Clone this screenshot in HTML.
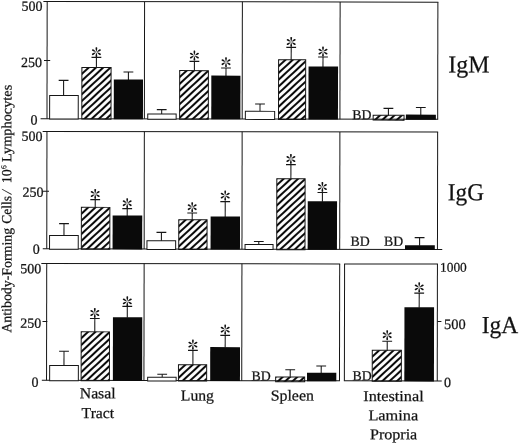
<!DOCTYPE html>
<html><head><meta charset="utf-8"><title>Antibody-Forming Cells</title>
<style>html,body{margin:0;padding:0;background:#fff}svg{display:block}</style>
</head><body>
<svg width="520" height="445" viewBox="0 0 520 445" font-family="'Liberation Serif', 'Times New Roman', serif" fill="#111">
<defs>
<pattern id="h0" patternUnits="userSpaceOnUse" width="30" height="4.95" patternTransform="translate(81.63,67.43) rotate(-43)"><rect x="0" y="0" width="30" height="1.025" fill="#0a0a0a"/><rect x="0" y="3.9250000000000003" width="30" height="1.025" fill="#0a0a0a"/></pattern>
<pattern id="h1" patternUnits="userSpaceOnUse" width="30" height="4.95" patternTransform="translate(179.43,70.46) rotate(-43)"><rect x="0" y="0" width="30" height="1.025" fill="#0a0a0a"/><rect x="0" y="3.9250000000000003" width="30" height="1.025" fill="#0a0a0a"/></pattern>
<pattern id="h2" patternUnits="userSpaceOnUse" width="30" height="4.95" patternTransform="translate(278.32,59.40) rotate(-43)"><rect x="0" y="0" width="30" height="1.025" fill="#0a0a0a"/><rect x="0" y="3.9250000000000003" width="30" height="1.025" fill="#0a0a0a"/></pattern>
<pattern id="h3" patternUnits="userSpaceOnUse" width="30" height="4.95" patternTransform="translate(372.97,114.73) rotate(-43)"><rect x="0" y="0" width="30" height="1.025" fill="#0a0a0a"/><rect x="0" y="3.9250000000000003" width="30" height="1.025" fill="#0a0a0a"/></pattern>
<pattern id="h4" patternUnits="userSpaceOnUse" width="30" height="4.95" patternTransform="translate(81.36,207.33) rotate(-43)"><rect x="0" y="0" width="30" height="1.025" fill="#0a0a0a"/><rect x="0" y="3.9250000000000003" width="30" height="1.025" fill="#0a0a0a"/></pattern>
<pattern id="h5" patternUnits="userSpaceOnUse" width="30" height="4.95" patternTransform="translate(178.77,219.56) rotate(-43)"><rect x="0" y="0" width="30" height="1.025" fill="#0a0a0a"/><rect x="0" y="3.9250000000000003" width="30" height="1.025" fill="#0a0a0a"/></pattern>
<pattern id="h6" patternUnits="userSpaceOnUse" width="30" height="4.95" patternTransform="translate(276.74,178.30) rotate(-43)"><rect x="0" y="0" width="30" height="1.025" fill="#0a0a0a"/><rect x="0" y="3.9250000000000003" width="30" height="1.025" fill="#0a0a0a"/></pattern>
<pattern id="h7" patternUnits="userSpaceOnUse" width="30" height="4.95" patternTransform="translate(81.38,331.83) rotate(-43)"><rect x="0" y="0" width="30" height="1.025" fill="#0a0a0a"/><rect x="0" y="3.9250000000000003" width="30" height="1.025" fill="#0a0a0a"/></pattern>
<pattern id="h8" patternUnits="userSpaceOnUse" width="30" height="4.95" patternTransform="translate(178.71,364.56) rotate(-43)"><rect x="0" y="0" width="30" height="1.025" fill="#0a0a0a"/><rect x="0" y="3.9250000000000003" width="30" height="1.025" fill="#0a0a0a"/></pattern>
<pattern id="h9" patternUnits="userSpaceOnUse" width="30" height="4.95" patternTransform="translate(275.92,376.70) rotate(-43)"><rect x="0" y="0" width="30" height="1.025" fill="#0a0a0a"/><rect x="0" y="3.9250000000000003" width="30" height="1.025" fill="#0a0a0a"/></pattern>
<pattern id="h10" patternUnits="userSpaceOnUse" width="30" height="4.95" patternTransform="translate(372.49,349.73) rotate(-43)"><rect x="0" y="0" width="30" height="1.025" fill="#0a0a0a"/><rect x="0" y="3.9250000000000003" width="30" height="1.025" fill="#0a0a0a"/></pattern>
<g id="ast" fill="#111">
<path id="arm" d="M0,-0.3 C-0.5,-1.6 -1.1,-3.6 -0.75,-4.6 C-0.5,-5.2 0.5,-5.2 0.75,-4.6 C1.1,-3.6 0.5,-1.6 0,-0.3 Z"/>
<use href="#arm" transform="rotate(60)"/>
<use href="#arm" transform="rotate(120)"/>
<use href="#arm" transform="rotate(180)"/>
<use href="#arm" transform="rotate(240)"/>
<use href="#arm" transform="rotate(300)"/>
</g>
</defs>
<rect width="520" height="445" fill="#fff"/>
<g transform="rotate(0.0974 260 222)">
<line x1="43.00" y1="1.85" x2="438.00" y2="1.85" stroke="#161616" stroke-width="1.0"/>
<line x1="40.40" y1="119.00" x2="438.00" y2="119.00" stroke="#161616" stroke-width="1.0"/>
<line x1="46.80" y1="1.85" x2="46.80" y2="119.00" stroke="#161616" stroke-width="1.0"/>
<line x1="144.20" y1="1.85" x2="144.20" y2="119.00" stroke="#161616" stroke-width="1.0"/>
<line x1="242.00" y1="1.85" x2="242.00" y2="119.00" stroke="#161616" stroke-width="1.0"/>
<line x1="339.75" y1="1.85" x2="339.75" y2="119.00" stroke="#161616" stroke-width="1.0"/>
<line x1="437.50" y1="1.85" x2="437.50" y2="119.00" stroke="#161616" stroke-width="1.0"/>
<line x1="42.50" y1="131.80" x2="438.00" y2="131.80" stroke="#161616" stroke-width="1.0"/>
<line x1="42.80" y1="249.20" x2="442.30" y2="249.20" stroke="#161616" stroke-width="1.0"/>
<line x1="46.80" y1="131.80" x2="46.80" y2="249.20" stroke="#161616" stroke-width="1.0"/>
<line x1="144.20" y1="131.80" x2="144.20" y2="249.20" stroke="#161616" stroke-width="1.0"/>
<line x1="242.00" y1="131.80" x2="242.00" y2="249.20" stroke="#161616" stroke-width="1.0"/>
<line x1="339.75" y1="131.80" x2="339.75" y2="249.20" stroke="#161616" stroke-width="1.0"/>
<line x1="437.50" y1="131.80" x2="437.50" y2="249.20" stroke="#161616" stroke-width="1.0"/>
<line x1="41.40" y1="263.80" x2="340.25" y2="263.80" stroke="#161616" stroke-width="1.0"/>
<line x1="42.10" y1="380.70" x2="340.25" y2="380.70" stroke="#161616" stroke-width="1.0"/>
<line x1="46.80" y1="263.80" x2="46.80" y2="380.70" stroke="#161616" stroke-width="1.0"/>
<line x1="144.20" y1="263.80" x2="144.20" y2="380.70" stroke="#161616" stroke-width="1.0"/>
<line x1="242.00" y1="263.80" x2="242.00" y2="380.70" stroke="#161616" stroke-width="1.0"/>
<line x1="339.75" y1="263.80" x2="339.75" y2="380.70" stroke="#161616" stroke-width="1.0"/>
<line x1="344.15" y1="263.80" x2="438.00" y2="263.80" stroke="#161616" stroke-width="1.0"/>
<line x1="344.15" y1="380.70" x2="442.00" y2="380.70" stroke="#161616" stroke-width="1.0"/>
<line x1="344.65" y1="263.80" x2="344.65" y2="380.70" stroke="#161616" stroke-width="1.0"/>
<line x1="437.50" y1="263.80" x2="437.50" y2="380.70" stroke="#161616" stroke-width="1.0"/>
<line x1="43.73" y1="60.76" x2="49.93" y2="60.76" stroke="#161616" stroke-width="1.0"/>
<line x1="42.55" y1="191.56" x2="48.95" y2="191.56" stroke="#161616" stroke-width="1.0"/>
<line x1="42.67" y1="321.77" x2="47.47" y2="321.77" stroke="#161616" stroke-width="1.0"/>
<line x1="437.67" y1="321.19" x2="441.57" y2="321.19" stroke="#161616" stroke-width="1.0"/>
<text x="42.14" y="11.07" font-size="14" text-anchor="end" stroke="#222" stroke-width="0.25">500</text>
<text x="42.26" y="141.27" font-size="14" text-anchor="end" stroke="#222" stroke-width="0.25">500</text>
<text x="41.29" y="273.57" font-size="14" text-anchor="end" stroke="#222" stroke-width="0.25">500</text>
<text x="41.84" y="67.47" font-size="14" text-anchor="end" stroke="#222" stroke-width="0.25">250</text>
<text x="43.36" y="197.17" font-size="14" text-anchor="end" stroke="#222" stroke-width="0.25">250</text>
<text x="41.48" y="328.17" font-size="14" text-anchor="end" stroke="#222" stroke-width="0.25">250</text>
<text x="37.33" y="124.78" font-size="14" text-anchor="end" stroke="#222" stroke-width="0.25">0</text>
<text x="39.85" y="254.07" font-size="14" text-anchor="end" stroke="#222" stroke-width="0.25">0</text>
<text x="38.88" y="387.08" font-size="14" text-anchor="end" stroke="#222" stroke-width="0.25">0</text>
<text x="440.08" y="271.49" font-size="13.4" text-anchor="start" stroke="#222" stroke-width="0.25">1000</text>
<text x="444.18" y="328.79" font-size="14.4" text-anchor="start" stroke="#222" stroke-width="0.25">500</text>
<text x="444.28" y="386.59" font-size="14" text-anchor="start" stroke="#222" stroke-width="0.25">0</text>
<line x1="63.37" y1="80.73" x2="63.37" y2="96.03" stroke="#161616" stroke-width="1.05"/>
<line x1="58.47" y1="80.73" x2="68.27" y2="80.73" stroke="#161616" stroke-width="1.1"/>
<rect x="49.45" y="95.88" width="28.60" height="23.52" fill="#fff" stroke="#161616" stroke-width="1"/>
<line x1="96.13" y1="57.68" x2="96.13" y2="67.88" stroke="#161616" stroke-width="1.05"/>
<line x1="91.23" y1="57.68" x2="101.03" y2="57.68" stroke="#161616" stroke-width="1.1"/>
<rect x="81.63" y="67.73" width="29.20" height="51.67" fill="url(#h0)" stroke="#161616" stroke-width="1"/>
<use href="#ast" x="96.11" y="52.48"/>
<line x1="128.15" y1="72.22" x2="128.15" y2="80.32" stroke="#161616" stroke-width="1.05"/>
<line x1="123.25" y1="72.22" x2="133.05" y2="72.22" stroke="#161616" stroke-width="1.1"/>
<rect x="113.59" y="79.82" width="29.20" height="39.58" fill="#0a0a0a"/>
<line x1="161.51" y1="109.77" x2="161.51" y2="114.27" stroke="#161616" stroke-width="1.05"/>
<line x1="156.61" y1="109.77" x2="166.41" y2="109.77" stroke="#161616" stroke-width="1.1"/>
<rect x="147.57" y="114.12" width="28.40" height="5.28" fill="#fff" stroke="#161616" stroke-width="1"/>
<line x1="194.13" y1="61.51" x2="194.13" y2="70.91" stroke="#161616" stroke-width="1.05"/>
<line x1="189.23" y1="61.51" x2="199.03" y2="61.51" stroke="#161616" stroke-width="1.1"/>
<rect x="179.43" y="70.76" width="28.70" height="48.64" fill="url(#h1)" stroke="#161616" stroke-width="1"/>
<use href="#ast" x="194.12" y="55.71"/>
<line x1="225.74" y1="68.06" x2="225.74" y2="76.16" stroke="#161616" stroke-width="1.05"/>
<line x1="220.84" y1="68.06" x2="230.64" y2="68.06" stroke="#161616" stroke-width="1.1"/>
<rect x="211.09" y="75.66" width="29.10" height="43.74" fill="#0a0a0a"/>
<use href="#ast" x="225.73" y="62.26"/>
<line x1="259.81" y1="104.00" x2="259.81" y2="111.50" stroke="#161616" stroke-width="1.05"/>
<line x1="254.91" y1="104.00" x2="264.71" y2="104.00" stroke="#161616" stroke-width="1.1"/>
<rect x="245.17" y="111.35" width="29.30" height="8.05" fill="#fff" stroke="#161616" stroke-width="1"/>
<line x1="290.91" y1="47.35" x2="290.91" y2="59.85" stroke="#161616" stroke-width="1.05"/>
<line x1="286.01" y1="47.35" x2="295.81" y2="47.35" stroke="#161616" stroke-width="1.1"/>
<rect x="278.32" y="59.70" width="27.10" height="59.70" fill="url(#h2)" stroke="#161616" stroke-width="1"/>
<use href="#ast" x="290.89" y="41.95"/>
<line x1="322.73" y1="56.89" x2="322.73" y2="66.99" stroke="#161616" stroke-width="1.05"/>
<line x1="317.83" y1="56.89" x2="327.63" y2="56.89" stroke="#161616" stroke-width="1.1"/>
<rect x="308.28" y="66.49" width="29.50" height="52.91" fill="#0a0a0a"/>
<use href="#ast" x="322.71" y="51.49"/>
<line x1="388.21" y1="108.18" x2="388.21" y2="115.18" stroke="#161616" stroke-width="1.05"/>
<line x1="383.31" y1="108.18" x2="393.11" y2="108.18" stroke="#161616" stroke-width="1.1"/>
<rect x="372.97" y="115.03" width="30.90" height="4.87" fill="url(#h3)" stroke="#161616" stroke-width="1"/>
<line x1="420.61" y1="107.23" x2="420.61" y2="114.83" stroke="#161616" stroke-width="1.05"/>
<line x1="415.71" y1="107.23" x2="425.51" y2="107.23" stroke="#161616" stroke-width="1.1"/>
<rect x="405.72" y="114.33" width="30.00" height="5.07" fill="#0a0a0a"/>
<line x1="64.01" y1="223.93" x2="64.01" y2="236.03" stroke="#161616" stroke-width="1.05"/>
<line x1="59.11" y1="223.93" x2="68.91" y2="223.93" stroke="#161616" stroke-width="1.1"/>
<rect x="49.58" y="235.88" width="28.70" height="13.72" fill="#fff" stroke="#161616" stroke-width="1"/>
<line x1="95.17" y1="199.88" x2="95.17" y2="207.78" stroke="#161616" stroke-width="1.05"/>
<line x1="90.27" y1="199.88" x2="100.07" y2="199.88" stroke="#161616" stroke-width="1.1"/>
<rect x="81.36" y="207.63" width="28.50" height="41.97" fill="url(#h4)" stroke="#161616" stroke-width="1"/>
<use href="#ast" x="95.15" y="194.28"/>
<line x1="127.18" y1="208.83" x2="127.18" y2="216.13" stroke="#161616" stroke-width="1.05"/>
<line x1="122.28" y1="208.83" x2="132.08" y2="208.83" stroke="#161616" stroke-width="1.1"/>
<rect x="112.62" y="215.63" width="29.60" height="33.97" fill="#0a0a0a"/>
<use href="#ast" x="127.17" y="203.43"/>
<line x1="161.42" y1="232.57" x2="161.42" y2="241.07" stroke="#161616" stroke-width="1.05"/>
<line x1="156.52" y1="232.57" x2="166.32" y2="232.57" stroke="#161616" stroke-width="1.1"/>
<rect x="146.99" y="240.92" width="28.70" height="8.68" fill="#fff" stroke="#161616" stroke-width="1"/>
<line x1="192.19" y1="213.12" x2="192.19" y2="220.01" stroke="#161616" stroke-width="1.05"/>
<line x1="187.29" y1="213.12" x2="197.09" y2="213.12" stroke="#161616" stroke-width="1.1"/>
<rect x="178.77" y="219.86" width="28.30" height="29.74" fill="url(#h5)" stroke="#161616" stroke-width="1"/>
<use href="#ast" x="192.17" y="207.32"/>
<line x1="225.18" y1="201.66" x2="225.18" y2="216.96" stroke="#161616" stroke-width="1.05"/>
<line x1="220.28" y1="201.66" x2="230.08" y2="201.66" stroke="#161616" stroke-width="1.1"/>
<rect x="210.62" y="216.46" width="29.40" height="33.14" fill="#0a0a0a"/>
<use href="#ast" x="225.16" y="195.66"/>
<line x1="258.84" y1="241.50" x2="258.84" y2="244.70" stroke="#161616" stroke-width="1.05"/>
<line x1="253.94" y1="241.50" x2="263.74" y2="241.50" stroke="#161616" stroke-width="1.1"/>
<rect x="245.09" y="244.55" width="28.00" height="5.05" fill="#fff" stroke="#161616" stroke-width="1"/>
<line x1="290.81" y1="164.55" x2="290.81" y2="178.75" stroke="#161616" stroke-width="1.05"/>
<line x1="285.91" y1="164.55" x2="295.71" y2="164.55" stroke="#161616" stroke-width="1.1"/>
<rect x="276.74" y="178.60" width="28.30" height="71.00" fill="url(#h6)" stroke="#161616" stroke-width="1"/>
<use href="#ast" x="290.79" y="158.95"/>
<line x1="322.36" y1="192.39" x2="322.36" y2="201.59" stroke="#161616" stroke-width="1.05"/>
<line x1="317.46" y1="192.39" x2="327.26" y2="192.39" stroke="#161616" stroke-width="1.1"/>
<rect x="307.71" y="201.09" width="29.30" height="48.51" fill="#0a0a0a"/>
<use href="#ast" x="322.34" y="186.89"/>
<line x1="419.63" y1="237.33" x2="419.63" y2="245.53" stroke="#161616" stroke-width="1.05"/>
<line x1="414.73" y1="237.33" x2="424.53" y2="237.33" stroke="#161616" stroke-width="1.1"/>
<rect x="405.04" y="245.03" width="29.80" height="4.57" fill="#0a0a0a"/>
<line x1="64.23" y1="351.53" x2="64.23" y2="366.03" stroke="#161616" stroke-width="1.05"/>
<line x1="59.33" y1="351.53" x2="69.13" y2="351.53" stroke="#161616" stroke-width="1.1"/>
<rect x="49.91" y="365.88" width="28.70" height="15.22" fill="#fff" stroke="#161616" stroke-width="1"/>
<line x1="94.98" y1="318.78" x2="94.98" y2="332.28" stroke="#161616" stroke-width="1.05"/>
<line x1="90.08" y1="318.78" x2="99.88" y2="318.78" stroke="#161616" stroke-width="1.1"/>
<rect x="81.38" y="332.13" width="28.30" height="48.97" fill="url(#h7)" stroke="#161616" stroke-width="1"/>
<use href="#ast" x="94.95" y="313.28"/>
<line x1="127.45" y1="306.63" x2="127.45" y2="317.93" stroke="#161616" stroke-width="1.05"/>
<line x1="122.55" y1="306.63" x2="132.35" y2="306.63" stroke="#161616" stroke-width="1.1"/>
<rect x="113.12" y="317.43" width="29.30" height="63.67" fill="#0a0a0a"/>
<use href="#ast" x="127.43" y="301.63"/>
<line x1="162.46" y1="374.37" x2="162.46" y2="377.57" stroke="#161616" stroke-width="1.05"/>
<line x1="157.56" y1="374.37" x2="167.36" y2="374.37" stroke="#161616" stroke-width="1.1"/>
<rect x="147.92" y="377.42" width="28.50" height="3.68" fill="#fff" stroke="#161616" stroke-width="1"/>
<line x1="193.13" y1="350.51" x2="193.13" y2="365.01" stroke="#161616" stroke-width="1.05"/>
<line x1="188.23" y1="350.51" x2="198.03" y2="350.51" stroke="#161616" stroke-width="1.1"/>
<rect x="178.71" y="364.86" width="28.20" height="16.24" fill="url(#h8)" stroke="#161616" stroke-width="1"/>
<use href="#ast" x="193.11" y="344.71"/>
<line x1="225.40" y1="335.46" x2="225.40" y2="347.66" stroke="#161616" stroke-width="1.05"/>
<line x1="220.50" y1="335.46" x2="230.30" y2="335.46" stroke="#161616" stroke-width="1.1"/>
<rect x="210.44" y="347.16" width="29.80" height="33.94" fill="#0a0a0a"/>
<use href="#ast" x="225.38" y="329.66"/>
<line x1="290.46" y1="369.75" x2="290.46" y2="377.15" stroke="#161616" stroke-width="1.05"/>
<line x1="285.56" y1="369.75" x2="295.36" y2="369.75" stroke="#161616" stroke-width="1.1"/>
<rect x="275.92" y="377.00" width="29.00" height="4.70" fill="url(#h9)" stroke="#161616" stroke-width="1"/>
<line x1="321.45" y1="365.90" x2="321.45" y2="373.20" stroke="#161616" stroke-width="1.05"/>
<line x1="316.55" y1="365.90" x2="326.35" y2="365.90" stroke="#161616" stroke-width="1.1"/>
<rect x="307.26" y="372.70" width="29.30" height="8.40" fill="#0a0a0a"/>
<line x1="387.41" y1="340.98" x2="387.41" y2="350.18" stroke="#161616" stroke-width="1.05"/>
<line x1="382.51" y1="340.98" x2="392.31" y2="340.98" stroke="#161616" stroke-width="1.1"/>
<rect x="372.49" y="350.03" width="29.10" height="31.07" fill="url(#h10)" stroke="#161616" stroke-width="1"/>
<use href="#ast" x="387.39" y="334.98"/>
<line x1="419.33" y1="292.83" x2="419.33" y2="307.53" stroke="#161616" stroke-width="1.05"/>
<line x1="414.43" y1="292.83" x2="424.23" y2="292.83" stroke="#161616" stroke-width="1.1"/>
<rect x="404.61" y="307.03" width="29.60" height="74.07" fill="#0a0a0a"/>
<use href="#ast" x="419.31" y="287.13"/>
<text x="352.03" y="119.04" font-size="13.8" text-anchor="start" stroke="#222" stroke-width="0.25">BD</text>
<text x="350.64" y="245.55" font-size="13.8" text-anchor="start" stroke="#222" stroke-width="0.25">BD</text>
<text x="384.04" y="245.49" font-size="13.8" text-anchor="start" stroke="#222" stroke-width="0.25">BD</text>
<text x="251.87" y="380.41" font-size="13.8" text-anchor="start" stroke="#222" stroke-width="0.25">BD</text>
<text x="352.87" y="380.14" font-size="13.8" text-anchor="start" stroke="#222" stroke-width="0.25">BD</text>
<text x="98.00" y="398.58" font-size="15.2" text-anchor="middle" stroke="#222" stroke-width="0.25" textLength="35.9" lengthAdjust="spacingAndGlyphs">Nasal</text>
<text x="98.23" y="418.38" font-size="15.2" text-anchor="middle" stroke="#222" stroke-width="0.25" textLength="32.6" lengthAdjust="spacingAndGlyphs">Tract</text>
<text x="197.70" y="400.61" font-size="15.2" text-anchor="middle" stroke="#222" stroke-width="0.25" textLength="33.2" lengthAdjust="spacingAndGlyphs">Lung</text>
<text x="292.60" y="400.45" font-size="15.2" text-anchor="middle" stroke="#222" stroke-width="0.25" textLength="43.3" lengthAdjust="spacingAndGlyphs">Spleen</text>
<text x="393.80" y="400.87" font-size="15.0" text-anchor="middle" stroke="#222" stroke-width="0.25" textLength="60.4" lengthAdjust="spacingAndGlyphs">Intestinal</text>
<text x="393.64" y="420.07" font-size="15.0" text-anchor="middle" stroke="#222" stroke-width="0.25" textLength="49.8" lengthAdjust="spacingAndGlyphs">Lamina</text>
<text x="393.97" y="438.97" font-size="15.0" text-anchor="middle" stroke="#222" stroke-width="0.25" textLength="47.3" lengthAdjust="spacingAndGlyphs">Propria</text>
<text x="448.05" y="72.18" font-size="24.4" text-anchor="start" stroke="#222" stroke-width="0.25" textLength="41.2" lengthAdjust="spacingAndGlyphs">IgM</text>
<text x="447.76" y="199.98" font-size="24.4" text-anchor="start" stroke="#222" stroke-width="0.25" textLength="36.2" lengthAdjust="spacingAndGlyphs">IgG</text>
<text x="481.99" y="332.52" font-size="24.4" text-anchor="start" stroke="#222" stroke-width="0.25" textLength="36.5" lengthAdjust="spacingAndGlyphs">IgA</text>
<text transform="translate(11.49,333.12) rotate(-90)" stroke="#222" stroke-width="0.25" font-size="14" textLength="104.8" lengthAdjust="spacingAndGlyphs">Antibody-Forming</text>
<text transform="translate(11.30,224.12) rotate(-90)" stroke="#222" stroke-width="0.25" font-size="14" textLength="27.8" lengthAdjust="spacingAndGlyphs">Cells</text>
<text transform="translate(11.25,193.12) rotate(-90) skewX(-12)" stroke="#222" stroke-width="0.25" font-size="14" text-anchor="middle">/</text>
<text transform="translate(11.23,183.62) rotate(-90)" stroke="#222" stroke-width="0.25" font-size="14" >10</text>
<text transform="translate(6.11,169.43) rotate(-90)" font-size="7.6" stroke="#222" stroke-width="0.2">6</text>
<text transform="translate(11.20,162.32) rotate(-90)" stroke="#222" stroke-width="0.25" font-size="14" textLength="77.1" lengthAdjust="spacingAndGlyphs">Lymphocytes</text>
</g>
</svg>
</body></html>
